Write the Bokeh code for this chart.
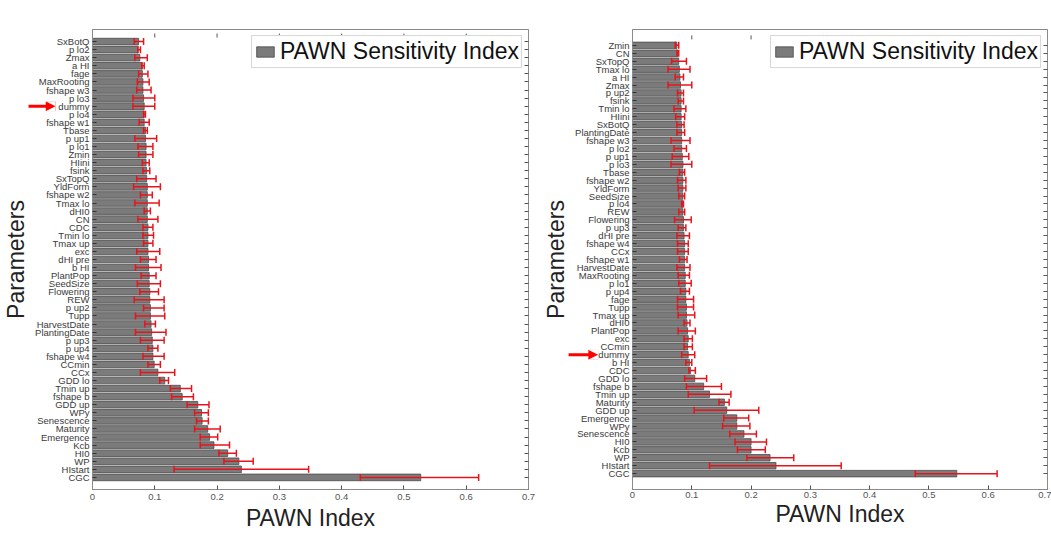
from bokeh.plotting import figure
from bokeh.models import (ColumnDataSource, Whisker, TeeHead, NormalHead, OpenHead, Arrow,
                          FactorRange, Range1d, CategoricalAxis, FixedTicker)
from bokeh.layouts import row
from bokeh.embed import file_html
from bokeh.resources import INLINE

# ---------------- data: left panel (top to bottom) ----------------
left_params = ["SxBotQ", "p lo2", "Zmax", "a HI", "fage", "MaxRooting", "fshape w3", "p lo3",
               "dummy", "p lo4", "fshape w1", "Tbase", "p up1", "p lo1", "Zmin", "HIini",
               "fsink", "SxTopQ", "YldForm", "fshape w2", "Tmax lo", "dHI0", "CN", "CDC",
               "Tmin lo", "Tmax up", "exc", "dHI pre", "b HI", "PlantPop", "SeedSize",
               "Flowering", "REW", "p up2", "Tupp", "HarvestDate", "PlantingDate", "p up3",
               "p up4", "fshape w4", "CCmin", "CCx", "GDD lo", "Tmin up", "fshape b", "GDD up",
               "WPy", "Senescence", "Maturity", "Emergence", "Kcb", "HI0", "WP", "HIstart", "CGC"]
left_index = [0.074, 0.073, 0.076, 0.080, 0.080, 0.081, 0.081, 0.082,
              0.083, 0.083, 0.083, 0.085, 0.085, 0.086, 0.086, 0.086,
              0.087, 0.087, 0.088, 0.088, 0.088, 0.088, 0.088, 0.089,
              0.089, 0.089, 0.089, 0.090, 0.090, 0.091, 0.091,
              0.092, 0.092, 0.093, 0.093, 0.094, 0.095, 0.096,
              0.097, 0.097, 0.099, 0.105, 0.116, 0.141, 0.144, 0.169,
              0.175, 0.176, 0.185, 0.188, 0.195, 0.217, 0.235, 0.239, 0.527]
left_low = [0.067, 0.073, 0.068, 0.079, 0.074, 0.072, 0.071, 0.065,
            0.065, 0.082, 0.075, 0.082, 0.068, 0.073, 0.074, 0.080,
            0.081, 0.071, 0.066, 0.077, 0.068, 0.083, 0.073, 0.081,
            0.081, 0.082, 0.071, 0.077, 0.069, 0.078, 0.072,
            0.076, 0.067, 0.082, 0.069, 0.084, 0.069, 0.077,
            0.089, 0.081, 0.089, 0.077, 0.108, 0.125, 0.127, 0.152,
            0.164, 0.167, 0.164, 0.173, 0.173, 0.203, 0.211, 0.131, 0.430]
left_high = [0.082, 0.077, 0.088, 0.083, 0.089, 0.091, 0.094, 0.100,
             0.100, 0.085, 0.091, 0.088, 0.103, 0.097, 0.097, 0.091,
             0.092, 0.102, 0.109, 0.096, 0.107, 0.093, 0.105, 0.097,
             0.098, 0.097, 0.108, 0.102, 0.110, 0.102, 0.109,
             0.106, 0.115, 0.115, 0.116, 0.101, 0.118, 0.115,
             0.105, 0.115, 0.109, 0.132, 0.122, 0.159, 0.162, 0.187,
             0.186, 0.186, 0.205, 0.201, 0.220, 0.231, 0.258, 0.347, 0.620]

# ---------------- data: right panel (top to bottom) ----------------
right_params = ["Zmin", "CN", "SxTopQ", "Tmax lo", "a HI", "Zmax", "p up2", "fsink", "Tmin lo",
                "HIini", "SxBotQ", "PlantingDate", "fshape w3", "p lo2", "p up1", "p lo3",
                "Tbase", "fshape w2", "YldForm", "SeedSize", "p lo4", "REW", "Flowering",
                "p up3", "dHI pre", "fshape w4", "CCx", "fshape w1", "HarvestDate", "MaxRooting",
                "p lo1", "p up4", "fage", "Tupp", "Tmax up", "dHI0", "PlantPop", "exc", "CCmin",
                "dummy", "b HI", "CDC", "GDD lo", "fshape b", "Tmin up", "Maturity", "GDD up",
                "Emergence", "WPy", "Senescence", "HI0", "Kcb", "WP", "HIstart", "CGC"]
right_index = [0.075, 0.076, 0.078, 0.079, 0.080, 0.081, 0.082, 0.082, 0.082,
               0.082, 0.083, 0.083, 0.083, 0.083, 0.084, 0.085,
               0.085, 0.085, 0.085, 0.085, 0.085, 0.085, 0.086,
               0.086, 0.087, 0.088, 0.088, 0.088, 0.088, 0.089,
               0.089, 0.090, 0.090, 0.091, 0.091, 0.092, 0.093, 0.094, 0.093,
               0.094, 0.096, 0.098, 0.105, 0.120, 0.130, 0.155, 0.159,
               0.176, 0.176, 0.188, 0.200, 0.200, 0.232, 0.242, 0.547]
right_low = [0.072, 0.075, 0.066, 0.060, 0.072, 0.060, 0.076, 0.077, 0.070,
             0.073, 0.075, 0.075, 0.065, 0.070, 0.067, 0.065,
             0.079, 0.076, 0.077, 0.078, 0.083, 0.078, 0.071,
             0.077, 0.075, 0.076, 0.076, 0.079, 0.075, 0.077,
             0.078, 0.081, 0.076, 0.076, 0.077, 0.087, 0.077, 0.087, 0.087,
             0.083, 0.090, 0.095, 0.088, 0.091, 0.094, 0.146, 0.104,
             0.154, 0.152, 0.164, 0.173, 0.177, 0.193, 0.130, 0.477]
right_high = [0.078, 0.078, 0.091, 0.097, 0.086, 0.100, 0.086, 0.086, 0.090,
              0.088, 0.087, 0.088, 0.097, 0.091, 0.095, 0.100,
              0.088, 0.090, 0.090, 0.088, 0.086, 0.088, 0.099,
              0.090, 0.096, 0.094, 0.094, 0.092, 0.097, 0.096,
              0.099, 0.096, 0.103, 0.103, 0.105, 0.097, 0.106, 0.101, 0.101,
              0.105, 0.100, 0.106, 0.125, 0.150, 0.166, 0.163, 0.213,
              0.196, 0.198, 0.209, 0.226, 0.224, 0.272, 0.352, 0.615]

x_ticks = [0, 0.1, 0.2, 0.3, 0.4, 0.5, 0.6, 0.7]
x_tick_labels = ["0", "0.1", "0.2", "0.3", "0.4", "0.5", "0.6", "0.7"]
legend_text = "PAWN Sensitivity Index"
x_title = "PAWN Index"
y_title = "Parameters"
marked_param = "dummy"

FONT = "Liberation Sans"
BAR_FILL = "#7b7b7b"
BAR_LINE = "#4a4a4a"
ERR = "#e8141b"
AX = "#8a8a8a"


def add_marker_arrow(p, x_tail, x_tip, head_len, shaft_px):
    # Arrow bodies are clipped to the frame; outside it they only show inside the
    # clip region of their (invisible) heads, which is used here to draw the marker.
    s_src = ColumnDataSource(dict(x0=[x_tail], x1=[x_tip - head_len * 0.5], y=[marked_param]))
    p.add_layout(Arrow(x_start="x0", y_start="y", x_end="x1", y_end="y", source=s_src,
                       line_color="red", line_width=3, level="overlay",
                       end=NormalHead(size=shaft_px, fill_alpha=0, line_alpha=0)))
    h_src = ColumnDataSource(dict(x0=[x_tip - head_len], x1=[x_tip], y=[marked_param]))
    p.add_layout(Arrow(x_start="x0", y_start="y", x_end="x1", y_end="y", source=h_src,
                       line_color="red", line_width=10, level="overlay",
                       end=NormalHead(size=10, fill_alpha=0, line_alpha=0)))
    # white mask around the head square -> triangular head
    p.add_layout(Arrow(x_start="x0", y_start="y", x_end="x1", y_end="y", source=h_src,
                       line_color="white", line_width=11, level="overlay",
                       end=OpenHead(size=10, line_alpha=0)))


def make_panel(params, vals, lows, highs, width, height, borders, legend_margin,
               ypad, arrow_geom, bottom_standoffs, top_tick_len):
    bl, br, bt, bb = borders
    src = ColumnDataSource(dict(p=params, v=vals, lo=lows, hi=highs))
    yr = FactorRange(factors=list(reversed(params)), range_padding=ypad,
                     range_padding_units="absolute")
    p = figure(width=width, height=height, y_range=yr,
               x_range=Range1d(x_ticks[0], x_ticks[-1]),
               output_backend="svg", toolbar_location=None,
               min_border_left=bl, min_border_right=br,
               min_border_top=bt, min_border_bottom=bb)
    p.title = None
    p.hbar(y="p", right="v", left=0, height=0.82, source=src,
           fill_color=BAR_FILL, line_color=BAR_LINE, line_width=0.8,
           legend_label=legend_text)

    w = Whisker(base="p", lower="lo", upper="hi", source=src, dimension="width",
                line_color=ERR, line_width=1.5, level="annotation",
                upper_head=TeeHead(size=7, line_color=ERR, line_width=1.5),
                lower_head=TeeHead(size=7, line_color=ERR, line_width=1.5))
    p.add_layout(w)

    # inward ticks along the top edge of the box
    y_top = len(params) + ypad / 2.0
    p.segment(x0=x_ticks, x1=x_ticks, y0=[y_top] * len(x_ticks),
              y1=[y_top - top_tick_len] * len(x_ticks), line_color="#555555", line_width=1)

    add_marker_arrow(p, *arrow_geom)

    p.grid.visible = False
    p.outline_line_color = AX
    p.background_fill_color = "white"
    p.border_fill_color = "white"

    # bottom axis
    xa = p.xaxis[0]
    xa.ticker = FixedTicker(ticks=x_ticks)
    xa.major_label_overrides = {t: l for t, l in zip(x_ticks, x_tick_labels)}
    xa.major_tick_in = 4
    xa.major_tick_out = 0
    xa.minor_tick_line_color = None
    xa.axis_line_color = AX
    xa.major_tick_line_color = "#555555"
    xa.major_label_text_font = FONT
    xa.major_label_text_font_size = "9.5px"
    xa.major_label_text_color = "#555555"
    xa.major_label_standoff = bottom_standoffs[0]
    xa.axis_label = x_title
    xa.axis_label_text_font = FONT
    xa.axis_label_text_font_size = "23px"
    xa.axis_label_text_font_style = "normal"
    xa.axis_label_text_color = "#222222"
    xa.axis_label_standoff = bottom_standoffs[1]

    # left axis
    ya = p.yaxis[0]
    ya.major_tick_in = 4
    ya.major_tick_out = 0
    ya.major_tick_line_color = "#333333"
    ya.axis_line_color = AX
    ya.major_label_text_font = FONT
    ya.major_label_text_font_size = "9.5px"
    ya.major_label_text_color = "#3a3a3a"
    ya.major_label_standoff = 3
    ya.axis_label = y_title
    ya.axis_label_text_font = FONT
    ya.axis_label_text_font_size = "23px"
    ya.axis_label_text_font_style = "normal"
    ya.axis_label_text_color = "#222222"
    ya.axis_label_standoff = 3

    # right edge of the box with inward ticks
    right = CategoricalAxis(major_label_text_font_size="0px", major_label_standoff=0,
                            major_tick_in=4, major_tick_out=0, axis_label_standoff=0,
                            axis_line_color=AX, major_tick_line_color="#555555")
    p.add_layout(right, "right")

    lg = p.legend[0]
    lg.location = "top_right"
    lg.margin = legend_margin
    lg.padding = 2
    lg.spacing = 0
    lg.glyph_width = 22
    lg.glyph_height = 13
    lg.label_standoff = 4
    lg.label_text_font = FONT
    lg.label_text_font_size = "23px"
    lg.label_text_color = "#111111"
    lg.border_line_color = "#b0b0b0"
    lg.border_line_width = 1
    lg.background_fill_alpha = 1.0
    return p


left = make_panel(left_params, left_index, left_low, left_high,
                  540, 536, (92, 12, 16, 47), 6, 1.0, (-0.1027, -0.0594, 0.016, 24), (4, 2),
                  0.5)
right = make_panel(right_params, right_index, right_low, right_high,
                   511, 536, (85, 4, 29, 40), 6, 1.5, (-0.1078, -0.058, 0.0166, 26), (2, 0),
                   0.5)

layout = row(left, right)
open("out.html", "w").write(file_html(layout, INLINE))
